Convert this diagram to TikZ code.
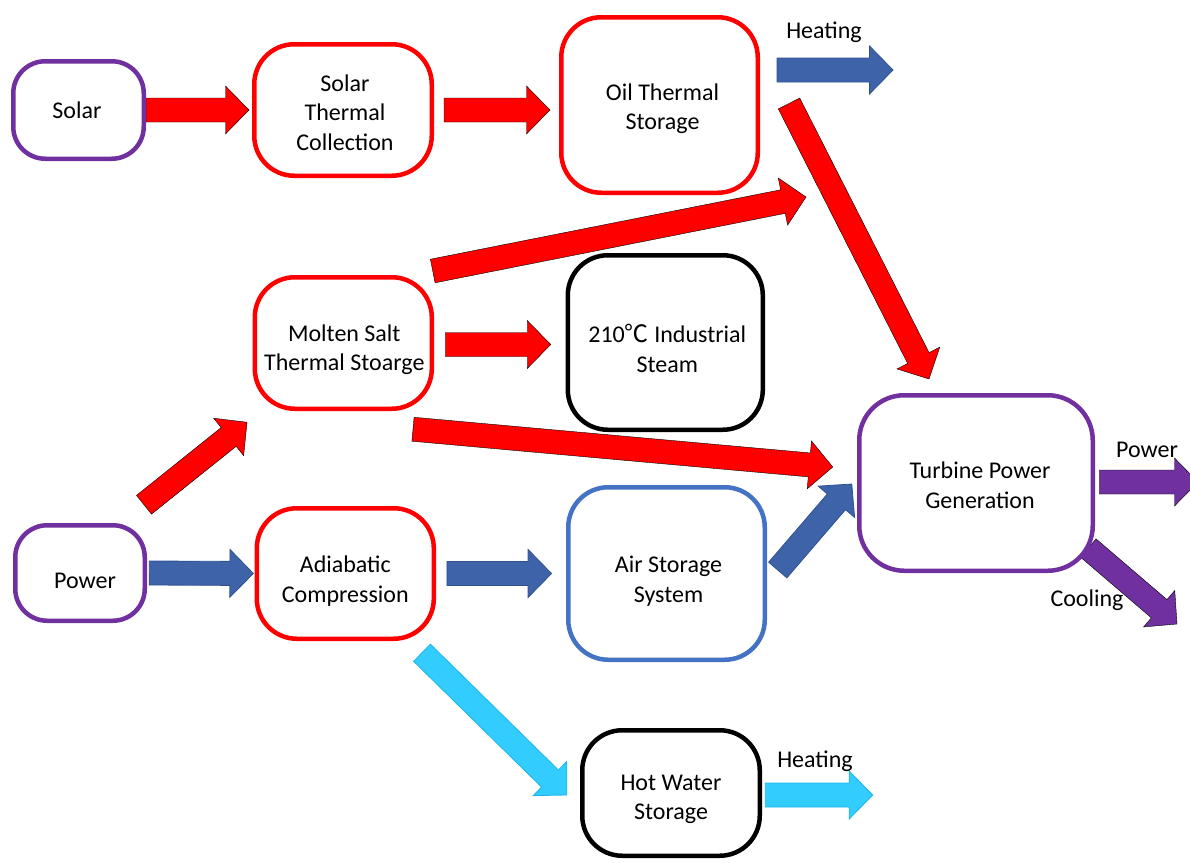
\documentclass[tikz,border=0pt]{standalone}
\usepackage{fontspec}
\setmainfont{Carlito}
\newfontfamily\cjkfont{Noto Sans CJK SC}
\usetikzlibrary{calc}
\pgfdeclarelayer{arrowlayer}
\pgfsetlayers{arrowlayer,main}

\definecolor{hotred}{HTML}{FF0000}
\definecolor{flowpurple}{HTML}{7030A0}
\definecolor{airblue}{HTML}{4472C4}
\definecolor{arrowblue}{HTML}{3E63A9}
\definecolor{arrowblueedge}{HTML}{2F528F}
\definecolor{arrowcyan}{HTML}{33CCFF}
\definecolor{arrowcyanedge}{HTML}{1FB5EA}

% block arrow: shaft half width, head half width, head length
\newcommand\bashaft{12pt}
\newcommand\bahead{24pt}
\newcommand\balen{23.5pt}
% \blockarrow{style}{from}{to}
\newcommand\blockarrow[3]{%
  \coordinate (bahbase) at ($(#3)!\balen!(#2)$);
  \draw[#1] ($(#2)!\bashaft!90:(#3)$)
    -- ($(bahbase)!\bashaft!90:(#3)$)
    -- ($(bahbase)!\bahead!90:(#3)$)
    -- (#3)
    -- ($(bahbase)!\bahead!-90:(#3)$)
    -- ($(bahbase)!\bashaft!-90:(#3)$)
    -- ($(#2)!\bashaft!-90:(#3)$) -- cycle;}

\begin{document}
\begin{tikzpicture}[x=1pt, y=-1pt,
  font=\fontsize{24}{29.5}\selectfont,
  box/.style={draw, line width=4.5pt, rounded corners=40pt, inner sep=0pt},
  smallbox/.style={box, rounded corners=32pt},
  boxtext/.style={align=center, inner sep=0pt},
  lbl/.style={inner sep=0pt},
  redarrow/.style={fill=hotred},
  purplearrow/.style={fill=flowpurple},
  bluearrow/.style={fill=arrowblue, draw=arrowblueedge, line width=0.8pt},
  cyanarrow/.style={fill=arrowcyan, draw=arrowcyanedge, line width=0.8pt}]
\useasboundingbox (0,0) rectangle (1190,862);
\clip (0,0) rectangle (1190,862);

% process boxes, each with its caption set slightly below the centre
\node[smallbox, draw=flowpurple, minimum width=130.5pt, minimum height=97.5pt,
  label={[boxtext, name=solarText, xshift=-1.5pt]center:Solar}]
  (solar) at (78.5,110) {};
\node[box, draw=hotred, minimum width=177.5pt, minimum height=131.5pt,
  label={[boxtext, name=stcText, xshift=2pt, yshift=-2.5pt]center:Solar\\Thermal\\Collection}]
  (stc) at (343,110) {};
\node[box, draw=hotred, minimum width=196.5pt, minimum height=175.5pt,
  label={[boxtext, name=otsText, xshift=3pt, yshift=-3.5pt]center:Oil Thermal\\Storage}]
  (ots) at (659.5,105) {};
\node[box, draw=hotred, minimum width=177pt, minimum height=131.5pt,
  label={[boxtext, name=msText, xshift=1pt, yshift=-6.5pt]center:Molten Salt\\Thermal Stoarge}]
  (ms) at (343.3,343) {};
\node[box, draw=black, minimum width=195pt, minimum height=174.5pt,
  label={[boxtext, name=steamText, xshift=2pt, yshift=-6pt]center:210{\cjkfont ℃} Industrial\\Steam}]
  (steam) at (665.3,342.5) {};
\node[box, draw=flowpurple, rounded corners=45pt, minimum width=233.5pt, minimum height=175.5pt,
  label={[boxtext, name=turbText, xshift=4pt, yshift=-2pt]center:Turbine Power\\Generation}]
  (turb) at (976,483) {};
\node[smallbox, draw=flowpurple, minimum width=129.5pt, minimum height=95.5pt,
  label={[boxtext, name=powerText, xshift=5pt, yshift=-7.5pt]center:Power}]
  (power) at (80,573) {};
\node[box, draw=hotred, minimum width=177pt, minimum height=130.5pt,
  label={[boxtext, name=acText, yshift=-7.5pt]center:Adiabatic\\Compression}]
  (ac) at (345.3,573.5) {};
\node[box, draw=airblue, minimum width=196.5pt, minimum height=172.5pt,
  label={[boxtext, name=airText, xshift=2pt, yshift=-7.5pt]center:Air Storage\\System}]
  (air) at (666.5,573.5) {};
\node[box, draw=black, minimum width=177.5pt, minimum height=125.5pt,
  label={[boxtext, name=hotText, yshift=-6.5pt]center:Hot Water\\Storage}]
  (hot) at (671,793) {};

% output labels
\node[lbl] (heatTop) at (824,32) {Heating};
\node[lbl] (powerOut) at (1147,450) {Power};
\node[lbl] (coolOut) at (1087,600) {Cooling};
\node[lbl] (heatBot) at (815,761) {Heating};

% arrow end points
\coordinate (solarOut) at (solar.east);
\coordinate (stcIn) at ([shift={(-3,0)}]stc.west);
\coordinate (stcOut) at ([shift={(10,0)}]stc.east);
\coordinate (otsIn) at ([shift={(-9,5)}]ots.west);
\coordinate (otsHeat) at ([shift={(17,-35)}]ots.east);
\coordinate (otsHeatEnd) at (893,70);
\coordinate (otsOut) at ([shift={(29,-1.5)}]ots.east);
\coordinate (turbInA) at ([shift={(-47,-14)}]turb.north);
\coordinate (msUp) at ([shift={(-1.3,-72)}]ms.east);
\coordinate (msUpEnd) at (806,197);
\coordinate (msSteam) at ([shift={(11.2,1.5)}]ms.east);
\coordinate (steamIn) at ([shift={(-14.8,2)}]steam.west);
\coordinate (msDown) at ([shift={(69.7,18.25)}]ms.south);
\coordinate (turbInB) at ([shift={(-24.25,-16)}]turb.west);
\coordinate (powerUp) at ([shift={(64,-18.25)}]power.north);
\coordinate (msIn) at ([shift={(-96.3,11.25)}]ms.south);
\coordinate (powerOutA) at ([shift={(2.25,0)}]power.east);
\coordinate (acIn) at ([shift={(-1.2,0)}]ac.west);
\coordinate (acOut) at ([shift={(10.9,0)}]ac.east);
\coordinate (airIn) at ([shift={(-14.45,0)}]air.west);
\coordinate (airOut) at ([shift={(10.75,-3.5)}]air.east);
\coordinate (turbInC) at ([shift={(-5.25,1)}]turb.west);
\coordinate (turbPower) at ([shift={(4.25,-1)}]turb.east);
\coordinate (turbPowerEnd) at (1198,482);
\coordinate (turbCool) at ([shift={(-6.75,65)}]turb.east);
\coordinate (turbCoolEnd) at (1177,624);
\coordinate (acDown) at ([shift={(76.7,11.75)}]ac.south);
\coordinate (hotIn) at ([shift={(-13.25,2)}]hot.west);
\coordinate (hotOut) at ([shift={(3.25,2)}]hot.east);
\coordinate (hotOutEnd) at (872.7,795);

% flows
\begin{pgfonlayer}{arrowlayer}
\blockarrow{redarrow}{solarOut}{stcIn}
\blockarrow{redarrow}{stcOut}{otsIn}
\blockarrow{bluearrow}{otsHeat}{otsHeatEnd}
\blockarrow{redarrow}{otsOut}{turbInA}
\blockarrow{redarrow}{msUp}{msUpEnd}
\blockarrow{redarrow}{msSteam}{steamIn}
\blockarrow{redarrow}{msDown}{turbInB}
\blockarrow{redarrow}{powerUp}{msIn}
\blockarrow{bluearrow}{powerOutA}{acIn}
\blockarrow{bluearrow}{acOut}{airIn}
\blockarrow{bluearrow}{airOut}{turbInC}
\blockarrow{purplearrow}{turbPower}{turbPowerEnd}
\blockarrow{purplearrow}{turbCool}{turbCoolEnd}
\blockarrow{cyanarrow}{acDown}{hotIn}
\blockarrow{cyanarrow}{hotOut}{hotOutEnd}
\end{pgfonlayer}
\end{tikzpicture}
\end{document}
